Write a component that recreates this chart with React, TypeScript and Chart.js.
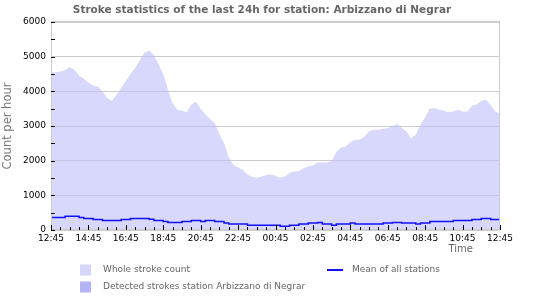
import React, { useEffect, useRef } from 'react';
import { Chart, registerables } from 'chart.js';

Chart.register(...registerables);

const FONT = '"DejaVu Sans", sans-serif';
const TITLE = 'Stroke statistics of the last 24h for station: Arbizzano di Negrar';
const Y_TITLE = 'Count per hour';
const X_TITLE = 'Time';

// x tick labels, every 2 hours, starting 12:45
const xTickLabels = [
  '12:45', '14:45', '16:45', '18:45', '20:45', '22:45', '00:45',
  '02:45', '04:45', '06:45', '08:45', '10:45', '12:45',
];

// samples every 15 minutes (hours since 12:45)
const SAMPLE_STEP_HOURS = 0.25;

// Whole stroke count (one line per hour, 4 samples each)
const wholeStrokeCount = [
  4550, 4550, 4570, 4610, // 12:45
  4700, 4620, 4460, 4360, // 13:45
  4250, 4170, 4140, 4000, // 14:45
  3800, 3730, 3900, 4100, // 15:45
  4300, 4500, 4680, 4900, // 16:45
  5120, 5180, 5050, 4780, // 17:45
  4500, 4050, 3650, 3470, // 18:45
  3440, 3400, 3620, 3700, // 19:45
  3500, 3330, 3200, 3080, // 20:45
  2770, 2500, 2100, 1880, // 21:45
  1800, 1730, 1600, 1530, // 22:45
  1510, 1540, 1580, 1610, // 23:45
  1560, 1510, 1540, 1650, // 00:45
  1690, 1700, 1780, 1830, // 01:45
  1860, 1950, 1950, 1950, // 02:45
  2000, 2250, 2380, 2410, // 03:45
  2530, 2600, 2600, 2700, // 04:45
  2850, 2890, 2890, 2920, // 05:45
  2940, 3000, 3060, 2940, // 06:45
  2840, 2650, 2750, 3040, // 07:45
  3250, 3500, 3520, 3470, // 08:45
  3440, 3400, 3420, 3470, // 09:45
  3420, 3420, 3580, 3620, // 10:45
  3730, 3760, 3600, 3420, // 11:45
  3360,                   // 12:45
];

// Mean of all stations
const meanAllStations = [
  360, 360, 360, 400,
  400, 400, 360, 330,
  330, 300, 300, 275,
  275, 275, 275, 300,
  300, 330, 330, 330,
  330, 310, 275, 275,
  245, 215, 215, 215,
  245, 245, 275, 275,
  245, 275, 275, 245,
  245, 200, 170, 170,
  170, 170, 140, 140,
  140, 140, 140, 140,
  140, 110, 110, 140,
  140, 170, 170, 200,
  200, 215, 170, 170,
  140, 170, 170, 170,
  200, 170, 170, 170,
  170, 170, 170, 200,
  200, 215, 215, 200,
  200, 200, 170, 200,
  200, 245, 245, 245,
  245, 245, 275, 275,
  275, 275, 300, 300,
  330, 330, 300, 300,
  300,
];

// Detected strokes of the station: nothing visible in the picture
const detectedStrokes: number[] = [];

const COLOR_WHOLE = 'rgba(190,190,250,0.6)';
const COLOR_WHOLE_LEGEND = '#d7d7fa';
const COLOR_DETECTED = '#b4b4f4';
const COLOR_MEAN = '#1010ff';

const toPoints = (arr: number[]) => arr.map((v, i) => ({ x: i * SAMPLE_STEP_HOURS, y: v }));

const decorPlugin = {
  id: 'decor',
  afterDraw(chart: any) {
    const ctx: CanvasRenderingContext2D = chart.ctx;
    const { left, right, top, bottom } = chart.chartArea;
    const xs = chart.scales.x;
    const ys = chart.scales.y;
    ctx.save();

    // plot border
    ctx.strokeStyle = '#cccccc';
    ctx.lineWidth = 1;
    ctx.strokeRect(Math.round(left) + 0.5, Math.round(top) - 0.5, Math.round(right - left) - 1, Math.round(bottom - top));

    // y tick marks every 500 (inside)
    ctx.strokeStyle = '#000';
    ctx.beginPath();
    for (let v = 0; v <= 6000; v += 500) {
      const y = Math.round(ys.getPixelForValue(v)) + 0.5;
      ctx.moveTo(left, y);
      ctx.lineTo(left + 4, y);
    }
    // x tick marks every 30 min (inside)
    for (let i = 0; i <= 48; i++) {
      const x = Math.round(xs.getPixelForValue(i * 0.5)) + 0.5;
      const len = i % 4 === 0 ? 5 : 3;
      ctx.moveTo(x, bottom);
      ctx.lineTo(x, bottom - len);
    }
    ctx.stroke();

    // title
    ctx.fillStyle = '#666';
    ctx.font = `bold 10.5px ${FONT}`;
    ctx.textAlign = 'center';
    ctx.textBaseline = 'middle';
    ctx.fillText(TITLE, 262, 10.5);

    // x title
    ctx.font = `10px ${FONT}`;
    ctx.textAlign = 'right';
    ctx.fillText(X_TITLE, 473, 249);

    // y title
    ctx.save();
    ctx.translate(8.5, (top + bottom) / 2);
    ctx.rotate(-Math.PI / 2);
    ctx.textAlign = 'center';
    ctx.font = `11.5px ${FONT}`;
    ctx.fillStyle = '#777';
    ctx.fillText(Y_TITLE, 0, 0);
    ctx.restore();

    // legend
    const ds = chart.data.datasets;
    ctx.font = `9px ${FONT}`;
    ctx.textAlign = 'left';
    ctx.textBaseline = 'middle';
    ctx.fillStyle = '#666';
    const items = [
      { label: ds[2].label, type: 'box', color: COLOR_WHOLE_LEGEND, x: 80, y: 270 },
      { label: ds[1].label, type: 'box', color: COLOR_DETECTED, x: 80, y: 287 },
      { label: ds[0].label, type: 'line', color: COLOR_MEAN, x: 327, y: 270 },
    ];
    for (const it of items) {
      if (it.type === 'box') {
        ctx.fillStyle = it.color;
        ctx.fillRect(it.x, it.y - 5.5, 11, 11);
        ctx.fillStyle = '#666';
        ctx.fillText(it.label, it.x + 23, it.y);
      } else {
        ctx.strokeStyle = it.color;
        ctx.lineWidth = 2;
        ctx.beginPath();
        ctx.moveTo(it.x, it.y);
        ctx.lineTo(it.x + 16, it.y);
        ctx.stroke();
        ctx.fillStyle = '#666';
        ctx.fillText(it.label, it.x + 25, it.y);
      }
    }
    ctx.restore();
  },
};

export default function App() {
  const canvasRef = useRef<HTMLCanvasElement | null>(null);

  useEffect(() => {
    document.body.style.margin = '0';
    const canvas = canvasRef.current;
    if (!canvas) return;
    const chart = new Chart(canvas, {
      type: 'line',
      data: {
        datasets: [
          {
            label: 'Mean of all stations',
            data: toPoints(meanAllStations),
            borderColor: COLOR_MEAN,
            borderWidth: 1.5,
            pointRadius: 0,
            fill: false,
            stepped: true,
            order: 0,
          },
          {
            label: 'Detected strokes station Arbizzano di Negrar',
            data: toPoints(detectedStrokes),
            borderWidth: 0,
            backgroundColor: COLOR_DETECTED,
            pointRadius: 0,
            fill: 'origin',
            order: 1,
          },
          {
            label: 'Whole stroke count',
            data: toPoints(wholeStrokeCount),
            borderWidth: 0,
            borderColor: 'rgba(0,0,0,0)',
            backgroundColor: COLOR_WHOLE,
            pointRadius: 0,
            fill: 'origin',
            order: 2,
          },
        ],
      },
      options: {
        responsive: false,
        animation: false,
        devicePixelRatio: 1,
        layout: { padding: { top: 22, right: 50, bottom: 0, left: 0 } },
        plugins: {
          legend: { display: false },
          title: { display: false },
          tooltip: { enabled: false },
        },
        scales: {
          x: {
            type: 'linear',
            min: 0,
            max: 24,
            grid: { display: false, drawTicks: false },
            border: { display: false },
            ticks: {
              stepSize: 2,
              autoSkip: false,
              maxRotation: 0,
              padding: 3,
              color: '#000',
              font: { family: FONT, size: 9 },
              callback: (v: any) => xTickLabels[Math.round(Number(v) / 2)] ?? '',
            },
            afterFit: (s: any) => { s.height = 70; },
          },
          y: {
            type: 'linear',
            min: 0,
            max: 6000,
            grid: { color: '#cccccc', drawTicks: false },
            border: { display: false },
            ticks: {
              stepSize: 1000,
              padding: 5,
              color: '#000',
              font: { family: FONT, size: 9 },
              callback: (v: any) => String(v),
            },
            afterFit: (s: any) => { s.width = 51; },
          },
        },
      },
      plugins: [decorPlugin],
    });
    return () => chart.destroy();
  }, []);

  return (
    <div style={{ width: 550, height: 300 }}>
      <canvas ref={canvasRef} width={550} height={300} style={{ display: 'block' }} />
    </div>
  );
}
